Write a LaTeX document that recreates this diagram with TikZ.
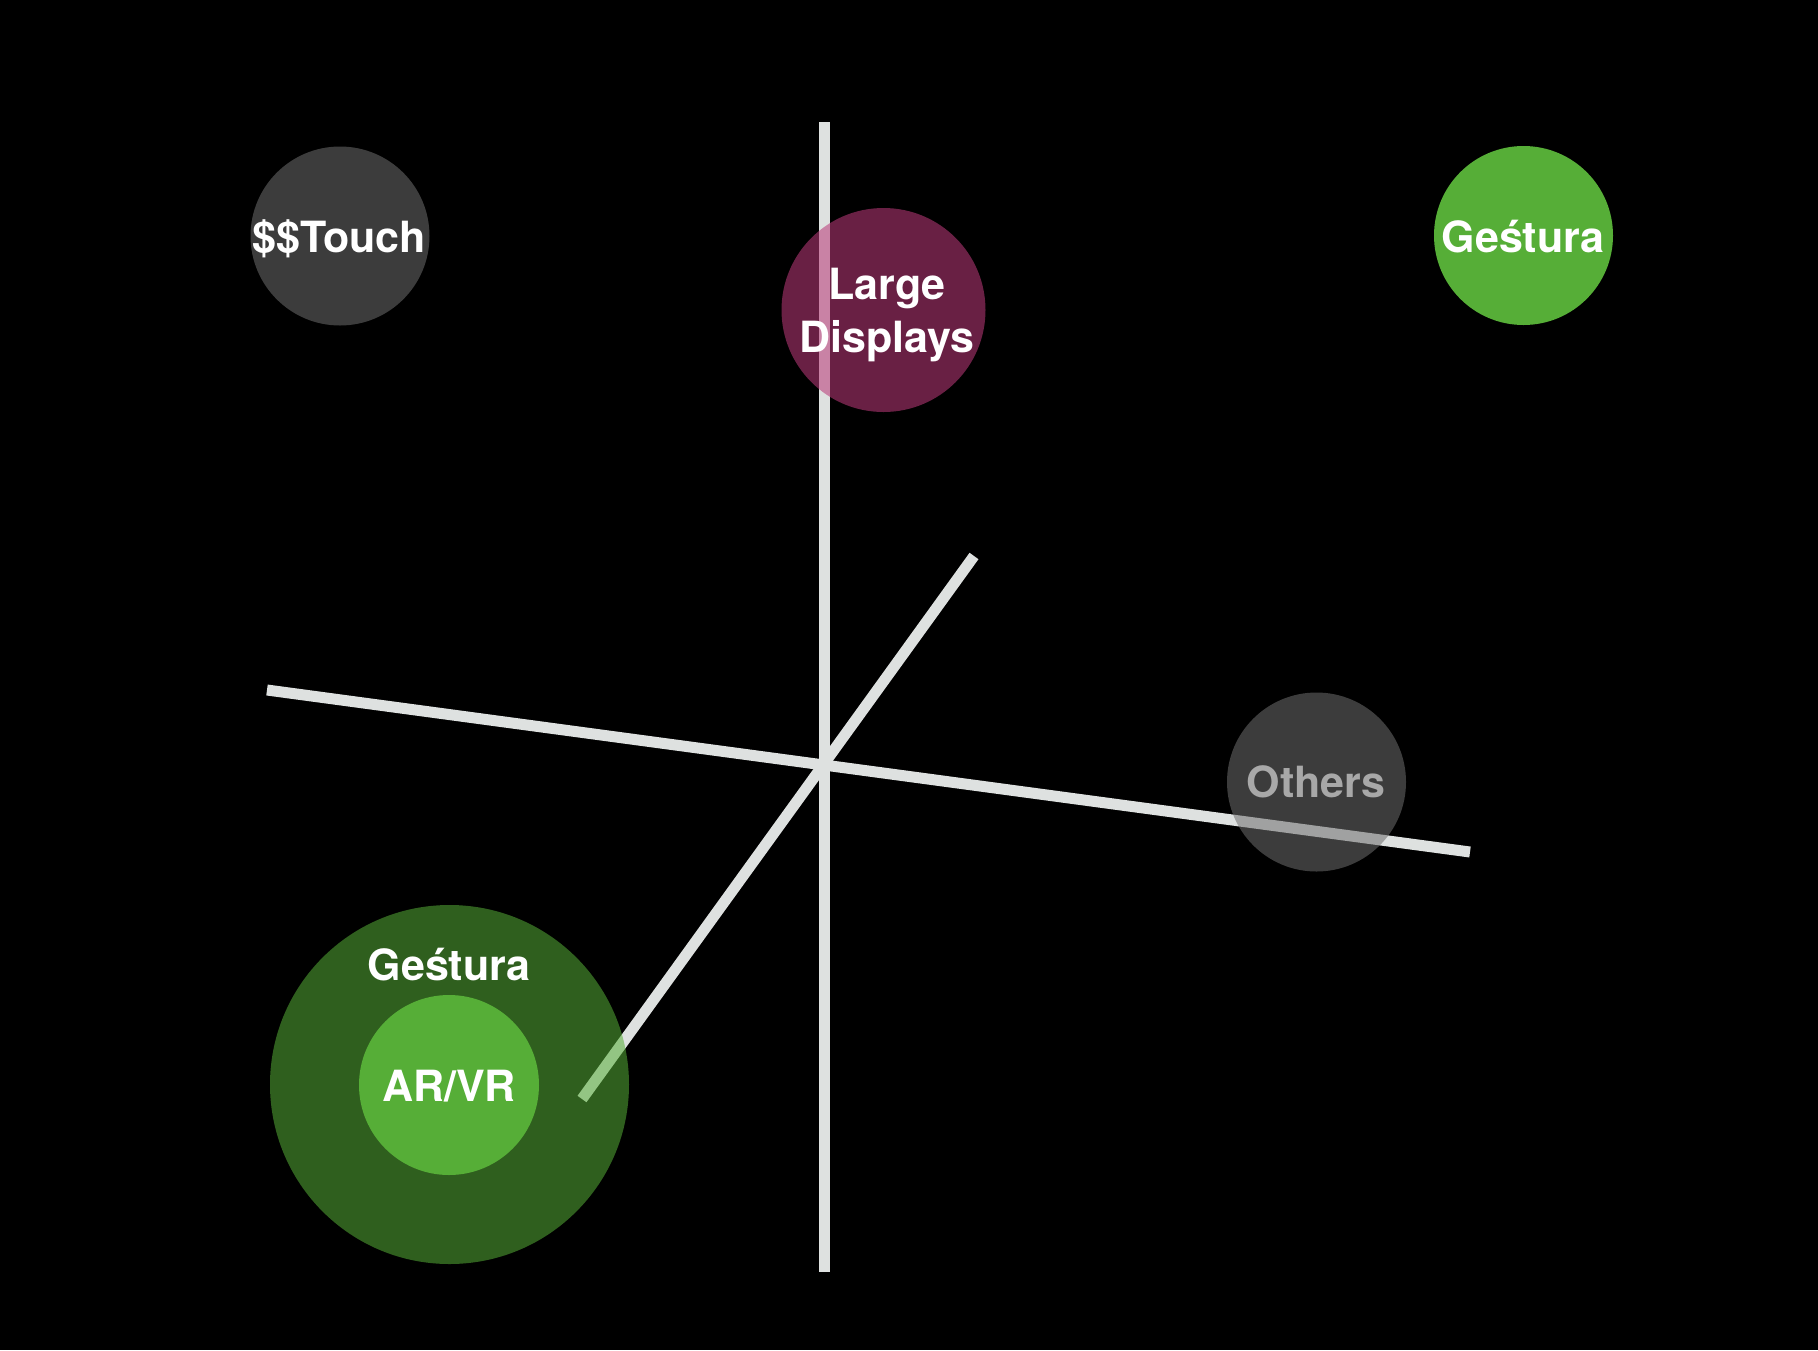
\documentclass[tikz,border=0pt]{standalone}
\usepackage{fontspec}
\setmainfont{TeX Gyre Heros}
\definecolor{axisc}{RGB}{222,225,224}
\definecolor{grayc}{RGB}{110,110,110}
\definecolor{plumc}{RGB}{186,58,121}
\definecolor{greenc}{RGB}{86,174,55}
\definecolor{othertxt}{RGB}{168,168,168}
\tikzset{
  axis/.style={draw=axisc, line width=11pt},
  disc/.style={circle, inner sep=0pt, outer sep=0pt},
  lbl/.style={text=white, font=\fontsize{43}{53}\selectfont\bfseries, inner sep=0pt, anchor=base},
}
\begin{document}
\begin{tikzpicture}[x=1pt,y=-1pt]
\fill[black] (0,0) rectangle (1818,1350);
\useasboundingbox (0,0) rectangle (1818,1350);
% axes
\coordinate (vtop) at (824,122);
\coordinate (vbot) at (824,1272);
\coordinate (hl) at (267,690);
\coordinate (hr) at (1470,852);
\coordinate (dtop) at (974,556);
\coordinate (dbot) at (582,1099);
\draw[axis] (vtop) -- (vbot);
\draw[axis] (hl) -- (hr);
\draw[axis] (dtop) -- (dbot);
% discs
\node[disc, fill=grayc, fill opacity=0.55, minimum size=179pt] (touch) at (340,236) {};
\node[disc, fill=plumc, fill opacity=0.57, minimum size=204pt] (large) at (883.5,310) {};
\node[disc, fill=greenc, minimum size=179pt] (gest1) at (1523.5,235.5) {};
\node[disc, fill=grayc, fill opacity=0.55, minimum size=179pt] (others) at (1316.5,782) {};
\node[disc, fill=greenc, fill opacity=0.55, minimum size=359pt] (gest2) at (449.5,1084.5) {};
\node[disc, fill=greenc, minimum size=180pt] (arvr) at (449,1085) {};
% labels
\node[lbl] (touchT) at (339,252) {\$\$Touch};
\node[lbl] (largeT1) at (887,299) {Large};
\node[lbl] (largeT2) at (887,352) {Displays};
\node[lbl] (gest1T) at (1523,252) {Geśtura};
\node[lbl, text=othertxt] (othersT) at (1316,797) {Others};
\node[lbl] (gest2T) at (449,980) {Geśtura};
\node[lbl] (arvrT) at (449,1101) {AR/VR};
\end{tikzpicture}
\end{document}
